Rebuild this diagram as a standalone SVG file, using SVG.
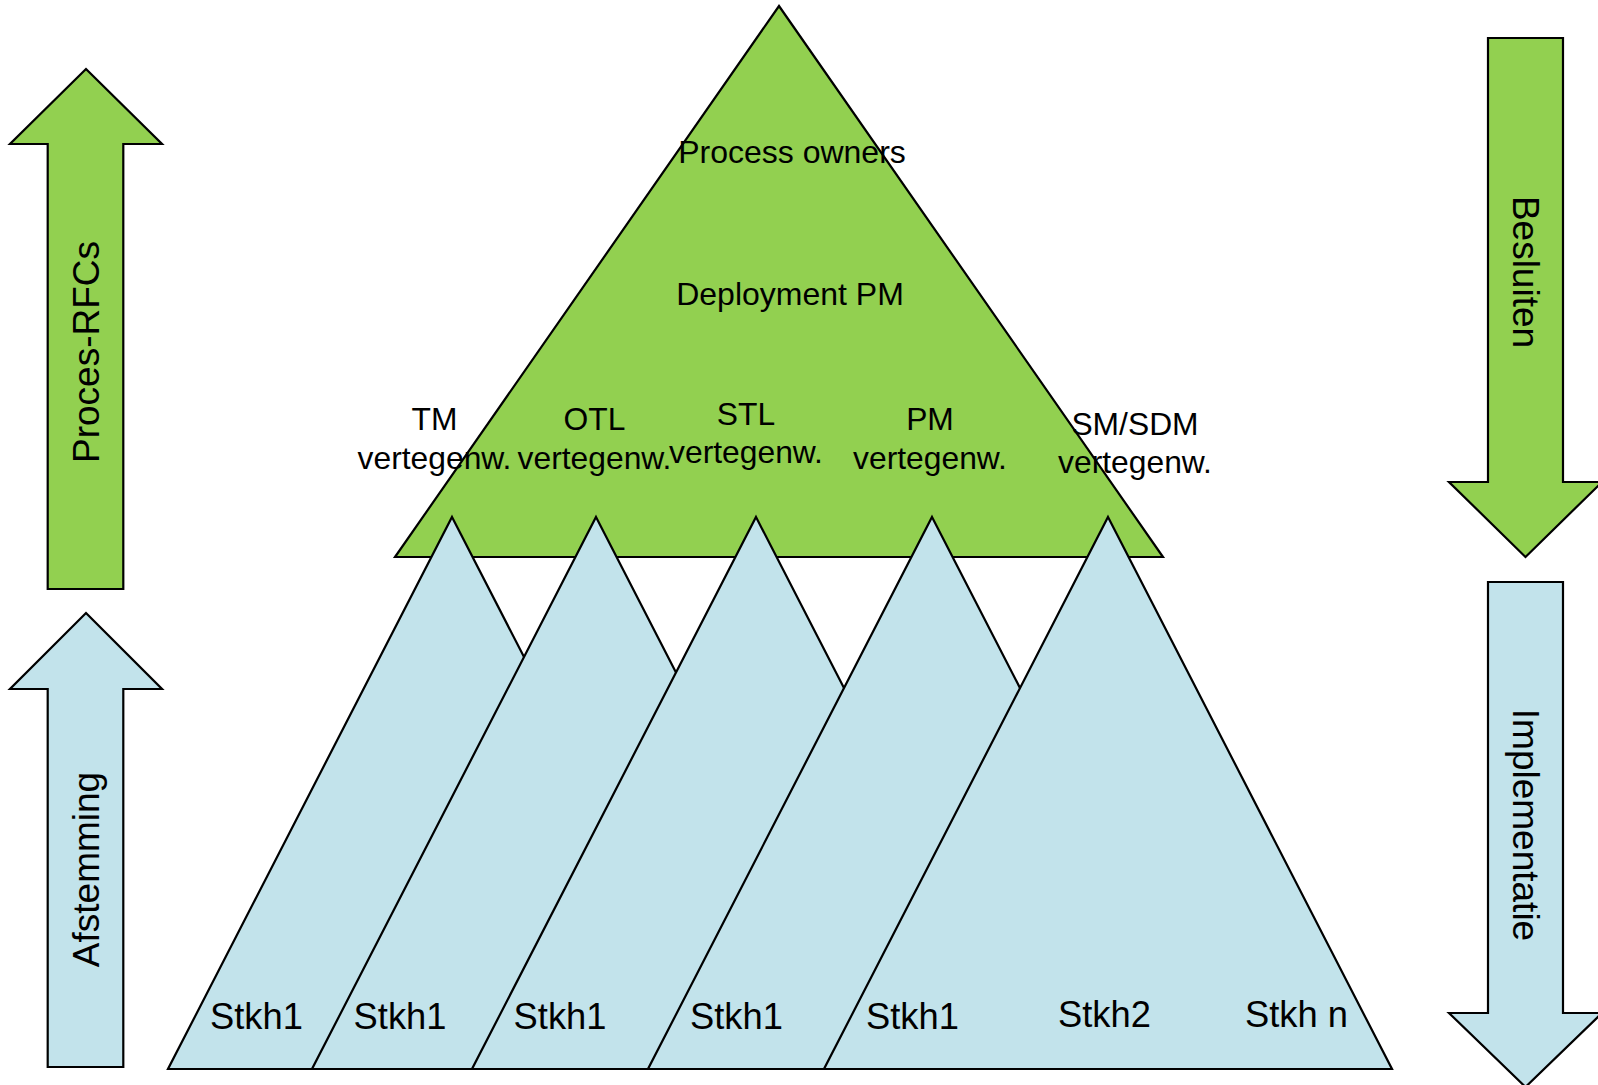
<svg xmlns="http://www.w3.org/2000/svg" width="1598" height="1085" viewBox="0 0 1598 1085">
<style>
.g{fill:#92D050;stroke:#000;stroke-width:2.2;stroke-linejoin:miter}
.b{fill:#C2E3EB;stroke:#000;stroke-width:2.2;stroke-linejoin:miter}
text{font-family:"Liberation Sans",Arial,sans-serif;fill:#000}
.s{font-size:36.3px}
.t{font-size:32px;text-anchor:middle}
.r{font-size:31.8px;text-anchor:middle}
.a{font-size:37px;text-anchor:middle}
</style>
<rect width="1598" height="1085" fill="#fff"/>
<g id="arrow-proces-rfcs">
<polygon class="g" points="86,69 162,144 123.3,144 123.3,589 47.7,589 47.7,144 10,144"/>
<text class="a" transform="translate(98.5,352) rotate(-90)">Proces-RFCs</text>
</g>
<g id="arrow-afstemming">
<polygon class="b" points="86,613 162,689 123.3,689 123.3,1067 47.7,1067 47.7,689 10,689"/>
<text class="a" transform="translate(98.5,869.5) rotate(-90)">Afstemming</text>
</g>
<g id="arrow-besluiten">
<polygon class="g" points="1488,38 1563,38 1563,482 1602,482 1525.5,557 1449,482 1488,482"/>
<text class="a" transform="translate(1512.5,272) rotate(90)">Besluiten</text>
</g>
<g id="arrow-implementatie">
<polygon class="b" points="1488,582 1563,582 1563,1013 1602,1013 1525.5,1087 1449,1013 1488,1013"/>
<text class="a" transform="translate(1512.5,825) rotate(90)">Implementatie</text>
</g>
<g id="top-triangle">
<polygon class="g" points="779,6 1163,557 395,557"/>
</g>
<g id="stakeholder-1">
<polygon class="b" points="452,517 736,1069 168,1069"/>
</g>
<g id="stakeholder-2">
<polygon class="b" points="596,517 880,1069 312,1069"/>
</g>
<g id="stakeholder-3">
<polygon class="b" points="756,517 1040,1069 472,1069"/>
</g>
<g id="stakeholder-4">
<polygon class="b" points="932,517 1216,1069 648,1069"/>
</g>
<g id="stakeholder-5">
<polygon class="b" points="1108,517 1392,1069 824,1069"/>
</g>
<g id="top-labels">
<text class="t" x="792" y="163">Process owners</text>
<text class="t" x="790" y="305">Deployment PM</text>
<text class="r" x="434.5" y="430">TM</text>
<text class="r" x="434.5" y="468.5">vertegenw.</text>
<text class="r" x="594.5" y="430">OTL</text>
<text class="r" x="594.5" y="468.5">vertegenw.</text>
<text class="r" x="746" y="425">STL</text>
<text class="r" x="746" y="463">vertegenw.</text>
<text class="r" x="930" y="430">PM</text>
<text class="r" x="930" y="468.5">vertegenw.</text>
<text class="r" x="1135" y="435">SM/SDM</text>
<text class="r" x="1135" y="473">vertegenw.</text>
</g>
<g id="stakeholder-labels">
<text class="s" x="210" y="1029">Stkh1</text>
<text class="s" x="353.6" y="1029">Stkh1</text>
<text class="s" x="513.6" y="1029">Stkh1</text>
<text class="s" x="690" y="1029">Stkh1</text>
<text class="s" x="866" y="1029">Stkh1</text>
<text class="s" x="1058" y="1027">Stkh2</text>
<text class="s" x="1245" y="1027">Stkh n</text>
</g>
<g id="connectors"></g>
</svg>
